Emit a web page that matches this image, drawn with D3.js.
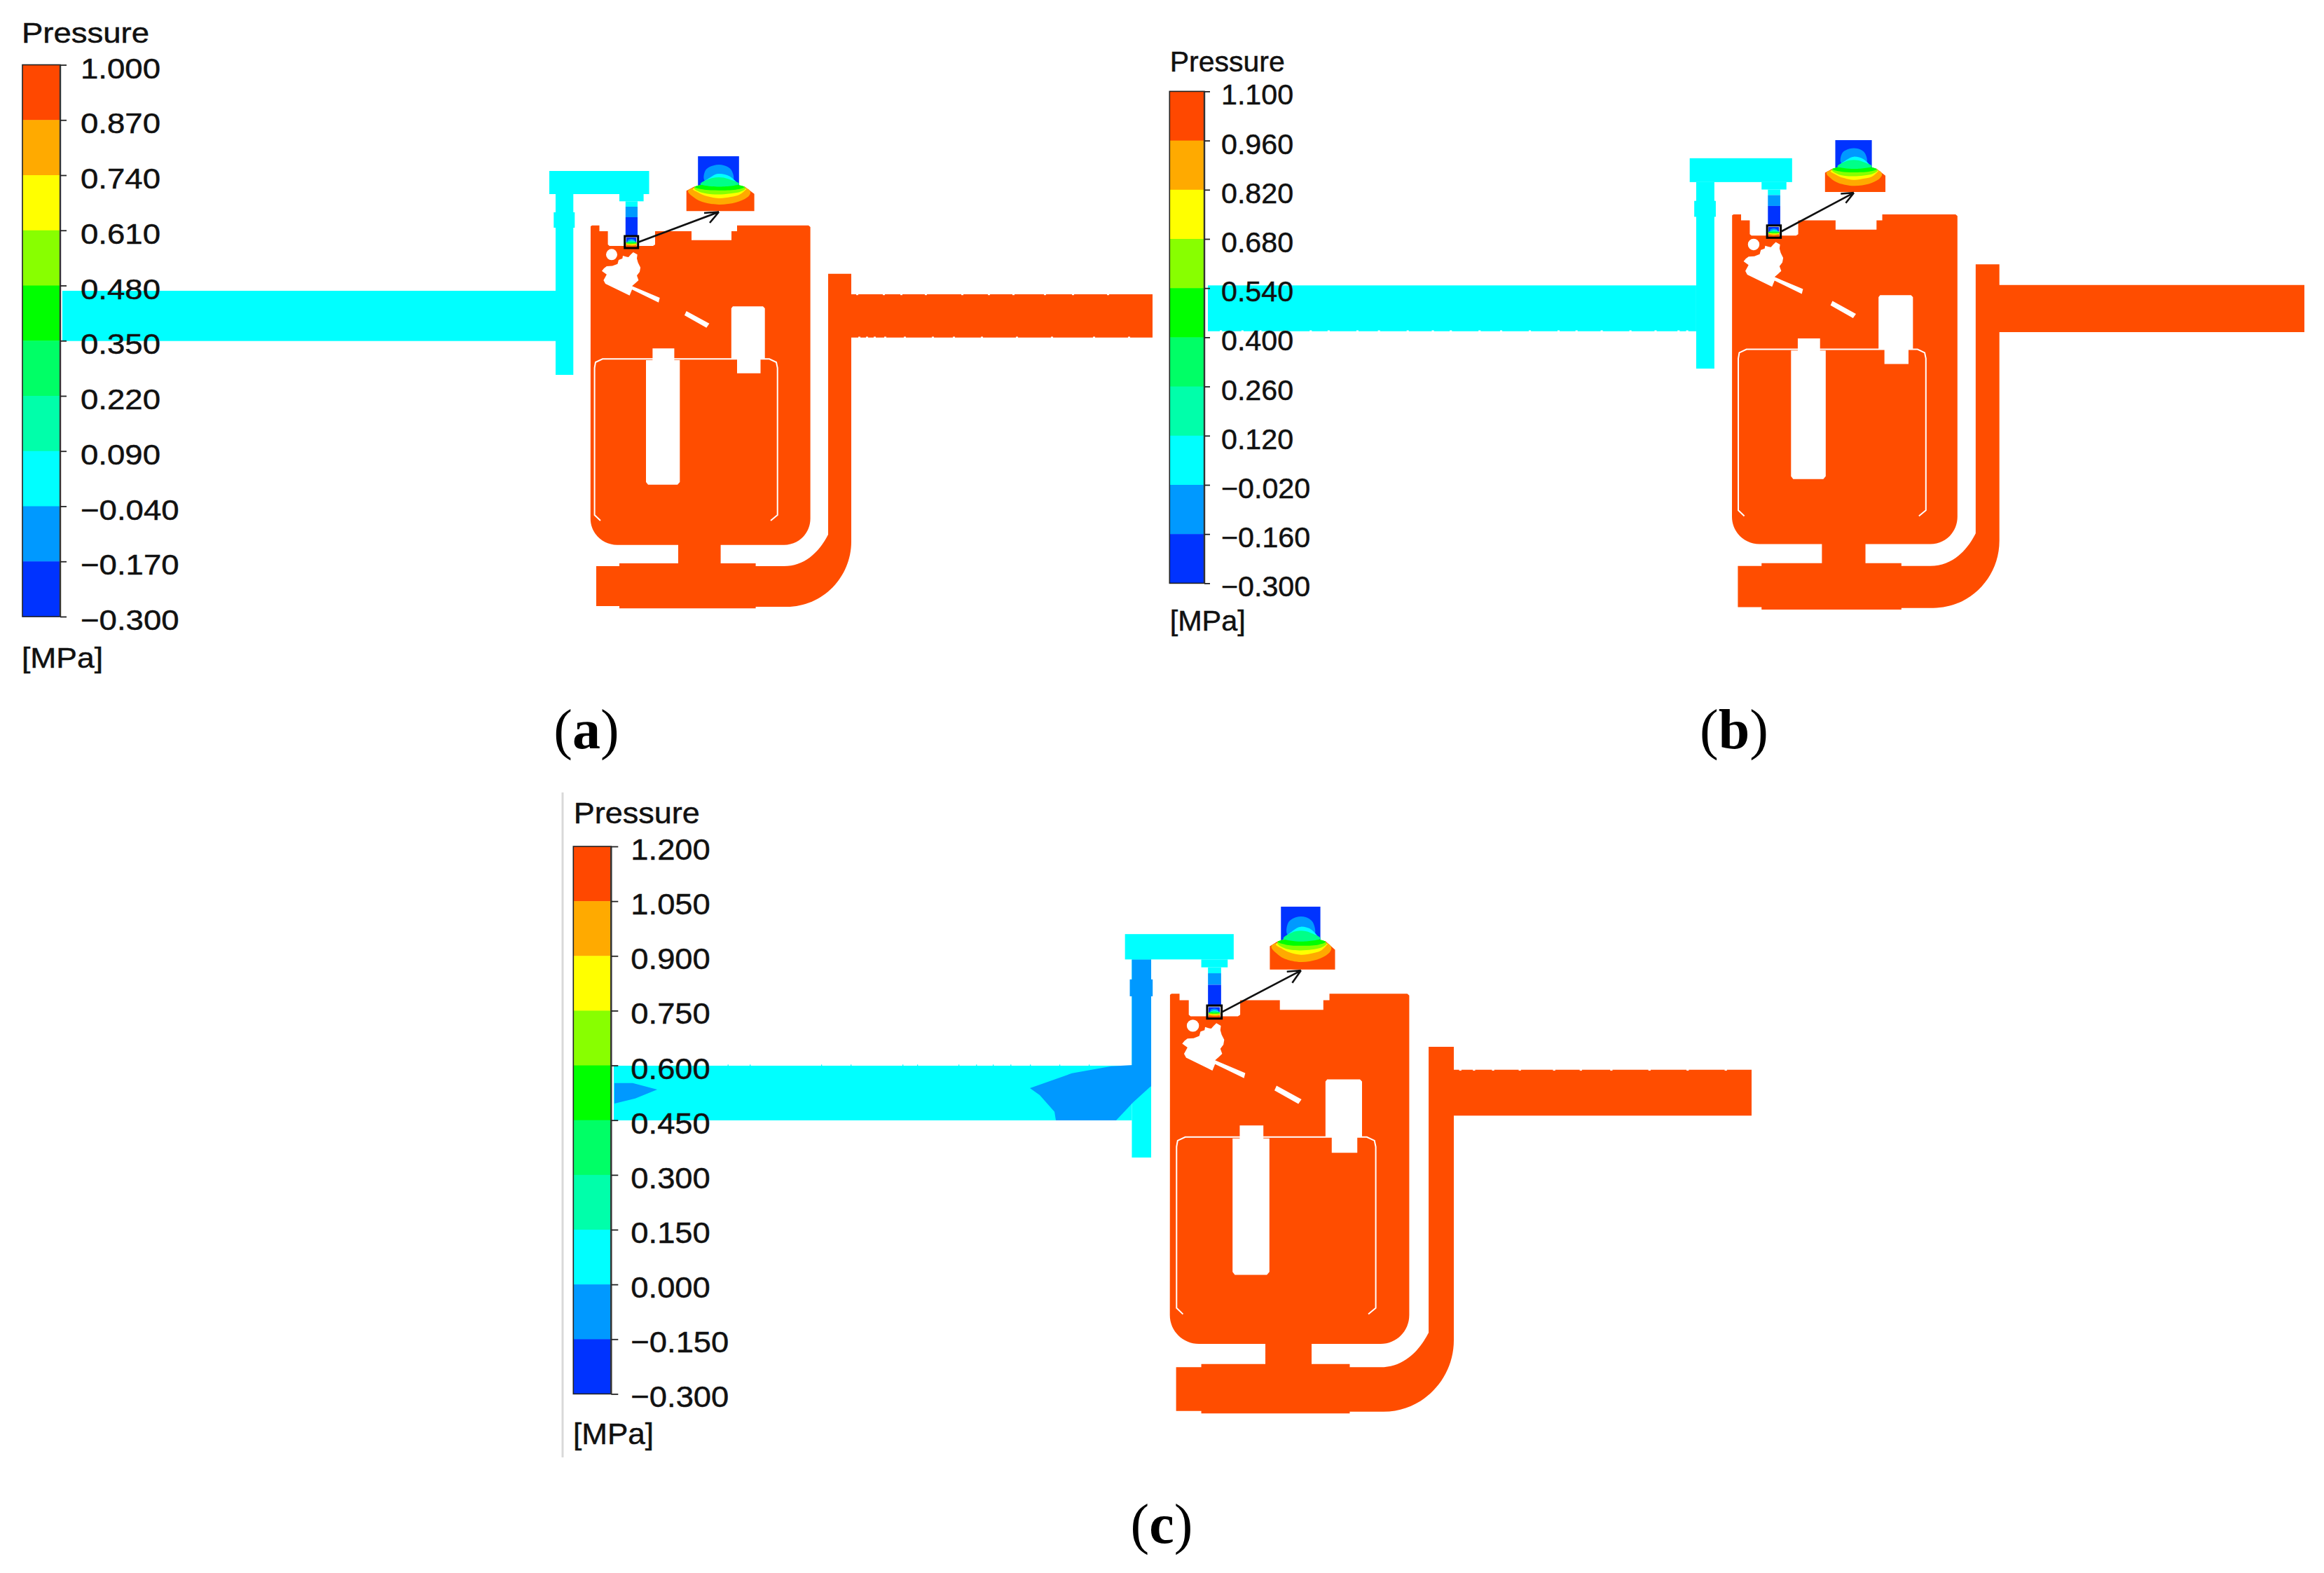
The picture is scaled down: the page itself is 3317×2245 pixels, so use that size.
<!DOCTYPE html>
<html><head><meta charset="utf-8">
<script src="https://cdn.jsdelivr.net/npm/d3@7/dist/d3.min.js"></script>
<style>html,body{margin:0;padding:0;background:#fff}svg{display:block}</style>
</head><body><div id="chart"></div>
<script>
// ---------- legend data ----------
const ticksA = [1.000,0.870,0.740,0.610,0.480,0.350,0.220,0.090,-0.040,-0.170,-0.300];
const ticksB = [1.100,0.960,0.820,0.680,0.540,0.400,0.260,0.120,-0.020,-0.160,-0.300];
const ticksC = [1.200,1.050,0.900,0.750,0.600,0.450,0.300,0.150,0.000,-0.150,-0.300];
const bandColors = ["#ff4800","#ffaa00","#ffff00","#88ff00","#00ff00","#00ff66","#00ffaa","#00ffff","#0099ff","#0033ff"];
const RED="#ff4d00", CYAN="#00ffff", LBLUE="#0099ff", BLUE="#0033ff";

// ---------- geometry, in model units ----------
// segments: [x,y] = line to; [c1x,c1y,c2x,c2y,x,y] = curve to
const outlineTop = [[843,323],[845,321.7],[855.5,321.7],[855.5,330],[867.6,330],[867.6,349],[870,351],[932,351],[935,349],[935,330],[987,330],[987,342.7],[1044,342.7],[1044,330],[1052,330],[1052,321.7],[1154,321.7],[1156.6,324],[1156.6,740],[1156.6,761,1140,777.7,1119,777.7],[1028.6,777.7],[1028.6,804],[1078.6,804],[1078.6,808],[1119,808],[1147,808,1168,790,1182,763],[1182,390.7],[1215,390.7]];
const outlineBottom = [[1215,773],[1215,824,1174,866,1123,866],[1078.6,866],[1078.6,868.3],[884,868.3],[884,865],[851,865],[851,808],[884,808],[884,804],[968,804],[968,777.7],[881,777.7],[860,777.7,842.8,761,842.8,740]];
const blobHole = [[859,386.7],[862,383],[865.9,380],[874,379.5],[881.4,376.7],[883,371],[888.3,369],[889,365],[894,366.5],[897,367],[900.3,363.3],[903.8,360],[909.7,363.3],[909,369],[910.7,375],[914.1,381.7],[913,388],[909,393.3],[911.4,400],[907,404],[902.1,408.3],[941.7,425],[940,431.7],[902.1,413.3],[898.6,421.7],[864.1,405],[861.4,400],[865.9,391.7]];
const circleHole = [873,363.3,8];
const slitHole = [[979.7,444],[1012.4,461.7],[1008.3,467.7],[976.9,450]];
const shiftedHoles = [
  [[1043.8,440],[1046,437.3],[1089,437.3],[1091.7,440],[1091.7,511.7],[1085.5,511.7],[1085.5,532.7],[1052,532.7],[1052,511.7],[1043.8,511.7]],
  [[931.4,497.3],[962.4,497.3],[962.4,514],[970.3,514],[970.3,688],[967,691.7],[925,691.7],[922,688],[922,514],[931.4,514]]
];
const innerLine = [[857,743],[848.6,735],[848.6,525],[850,517],[860,512.3],[1098,512.3],[1108,517],[1109.7,525],[1109.7,735],[1100,743]];
// [x0,y0,x1,y1,colour]
const headerRects = [[784,244,926.5,277,CYAN],[884,277,918.6,287.3,CYAN]];
const tubeRects = [[892.8,287.3,910,295,CYAN],[892.8,295,910,310,LBLUE],[892.8,310,910,338,BLUE]];
const riserRect = [793,277,818.3,535];
const bulgeRect = [790.3,303,820.3,325];
const squareBox = [891.7,337,910.7,354];
const miniBox = [893.5,339,908.5,352.5];
// panel (c) low pressure patches
const riserPatchC = [793,277,818.3,442.5];
const patchMainC = [[794.9,414.5],[765.9,416.1],[714.5,425.2],[675.7,438.9],[659.4,444.6],[672.3,453.7],[691.6,475.4],[693.4,486.6],[772.4,486.6],[794.9,462.9],[817.4,442.5],[818.3,414.5]];
const patchLeftC = [[114.8,437.9],[138.7,437.9],[170.9,446.4],[142.1,458],[114.8,464.7]];
// mesh roughness along the pipe edges: positions of small notches and spikes
const notchOutletTopA = [1222,1260,1285,1320,1372,1410,1445,1490,1530,1580];
const notchOutletBottomA = [1225,1236,1247,1262,1290,1330,1360,1400,1450,1500,1560,1610];
const notchInletBottomB = [130,160,185,220,255,280,320,350,390,425,450,490,520,560,600,625,660,700,735,767,779];
const notchOutletTopC = [1222,1240,1265,1300,1345,1380,1420,1470,1520,1570];
const spikeInletTopC = [263.2,292.1,385.7,424.3,492.3,511.5,565.7,588.8,610.7,633.8,659.4,697.9,736.5];

// inset model
const insetBox = [979.7,1076.6,223,301.3];
const insetBase = [[979.7,301.3],[979.7,272.3],[991.7,266],[1062.4,266],[1076.6,276.7],[1076.6,301.3]];
const insetTube = [996.2,223,1054.8,267];
const insetDomes = [
 {c:LBLUE,p:[[1006,258],[1007,243],[1019,236],[1033,236],[1044,243],[1046,258],[1026,262]]},
 {c:CYAN,p:[[1000,265],[1014,253],[1026,248],[1042,252],[1052,265],[1026,270]]}
];
const insetLenses = [
 {c:"#ffaa00",p:[[982,272.5],[992,268],[1026,266],[1062,268],[1071,274],[1066,282],[1050,289],[1026,292],[1002,288],[988,280]]},
 {c:"#ffff00",p:[[990,268.5],[1026,264],[1062,268.5],[1064,271],[1055,278],[1043,281],[1026,283],[1009,280],[997,275]]},
 {c:"#88ff00",p:[[991.5,266.5],[1026,261],[1062,266.5],[1056,274],[1026,277.5],[1002,275]]},
 {c:"#00ff00",p:[[991.7,266.5],[1012,262],[1026,260],[1043,262],[1062.4,266.5],[1050,270.7],[1026,271.7],[1005.5,270.7]]},
 {c:"#00ff88",p:[[1000,263],[1012,255.5],[1026,253],[1040,255.5],[1055,263],[1026,266.5]]}
];
const arrowHeadTip = [1026,302.5];
const arrowBarbs = [[1013,318],[1005,304]];
const arrowStart = [910.7,345.7];

// ---------- panels: model → screen mapping and texts ----------
const panels = [
 {ticks:ticksA, bar:[32,86,92.5,880], tick:9, pad:20, fs:40.5, stretch:1.125,
  title:[31,60.6,182], unit:[31,953,116],
  sxr:[842.8,1156.6], syd:[321.7,868.3], syr:[321.7,868.3],
  inlet:[89,415,793,486.7], outlet:[420,1645,481.7], shift:[0,0], slit:[0,0],
  notches:[[notchOutletTopA,420,1],[notchOutletBottomA,481.7,-1]],
  inset:[979.7,1076.6,223,301.3], cap:["a",837,1068]},
 {ticks:ticksB, bar:[1669.3,1719,130.4,832.4], tick:8, pad:16, fs:40, stretch:1.03,
  title:[1669.7,101.7,164], unit:[1669.7,900,108],
  sxr:[2472,2793.8], syd:[321.7,868.3], syr:[306,870],
  inlet:[113.4,419.9,793,483.3], outlet:[419.3,1639.5,484.5], shift:[3,-4], slit:[3,-2.5],
  notches:[[notchInletBottomB,483.3,-1]],
  inset:[2604.8,2691,200,274], cap:["b",2475,1068]},
 {ticks:ticksC, bar:[818.3,872.3,1208,1989.4], tick:10, pad:18, fs:43, stretch:1.055,
  title:[818.7,1175,180], unit:[818,2061,115],
  sxr:[1669.7,2011.4], syd:[321.7,868.3], syr:[1418.3,2017.3],
  inlet:[113.9,415.4,793,486.6], outlet:[420.6,1605.3,480.5], shift:[3,-4], slit:[3,-2.5],
  notches:[[notchOutletTopC,420.6,1]], spikes:[spikeInletTopC,415.4],
  inset:[1812.4,1905.5,1294,1383.7], cap:["c",1658,2202], patches:true}
];

// ---------- drawing ----------
const W=3317,H=2245, SANS="'Liberation Sans',Arial,sans-serif", SERIF="'Liberation Serif','Times New Roman',serif";
const svg=d3.select("#chart").append("svg").attr("width",W).attr("height",H).attr("viewBox",[0,0,W,H]).style("background","#fff");
const fmt=d=>d3.format(".3f")(d).replace("-","\u2013");

function stretched(sel,size,target){
  sel.style("font-family",SANS).style("font-size",size+"px").attr("fill","#111").attr("stroke","#111").attr("stroke-width",0.5);
  sel.attr("textLength",target).attr("lengthAdjust","spacingAndGlyphs");
}

panels.forEach((P,pi)=>{
  const g=svg.append("g");
  // ---- geometry scales
  const sx=d3.scaleLinear().domain([842.8,1156.6]).range(P.sxr);
  const sy=d3.scaleLinear().domain(P.syd).range(P.syr);
  const poly=(pts,fill,X=sx,Y=sy,curve,parent=g)=>{
    const l=d3.line().x(p=>X(p[0])).y(p=>Y(p[1]));
    if(curve) l.curve(curve);
    parent.append("path").attr("d",curve?l(pts):l(pts)+"Z").attr("fill",fill);
  };
  const rect=(r,fill)=>g.append("rect").attr("x",sx(r[0])).attr("y",sy(r[1])).attr("width",sx(r[2])-sx(r[0])).attr("height",sy(r[3])-sy(r[1])).attr("fill",fill);

  // ---- inlet, riser, header, tube
  rect(P.inlet,CYAN);
  if(P.spikes) P.spikes[0].forEach(x=>rect([x,P.spikes[1]-1.5,x+1.2,P.spikes[1]+0.5],CYAN));
  rect(riserRect,CYAN); rect(bulgeRect,P.patches?LBLUE:CYAN);
  if(P.patches){
    rect(riserPatchC,LBLUE);
    poly(patchMainC,LBLUE); poly(patchLeftC,LBLUE);
  }
  headerRects.forEach(r=>rect(r,r[4]));
  tubeRects.forEach(r=>rect(r,r[4]));

  // ---- body outline
  const seg=[...outlineTop,[1215,P.outlet[0]],[P.outlet[1],P.outlet[0]],[P.outlet[1],P.outlet[2]],[1215,P.outlet[2]],...outlineBottom];
  const path=d3.path();
  seg.forEach((s,i)=>{
    if(i===0) path.moveTo(sx(s[0]),sy(s[1]));
    else if(s.length===2) path.lineTo(sx(s[0]),sy(s[1]));
    else path.bezierCurveTo(sx(s[0]),sy(s[1]),sx(s[2]),sy(s[3]),sx(s[4]),sy(s[5]));
  });
  path.closePath();
  g.append("path").attr("d",path.toString()).attr("fill",RED);

  // ---- edge roughness
  (P.notches||[]).forEach(([xs,edge,dir])=>xs.forEach(x=>{
    rect(dir>0?[x,edge-0.5,x+3,edge+1.2]:[x,edge-1.2,x+3,edge+0.5],"#fff");
  }));

  // ---- holes
  const hx=v=>sx(v+P.shift[0]), hy=v=>sy(v+P.shift[1]);
  poly(blobHole,"#fff");
  g.append("circle").attr("cx",sx(circleHole[0])).attr("cy",sy(circleHole[1])).attr("r",sx(circleHole[0]+circleHole[2])-sx(circleHole[0])).attr("fill","#fff");
  poly(slitHole,"#fff",v=>sx(v+P.slit[0]),v=>sy(v+P.slit[1]));
  shiftedHoles.forEach(h=>poly(h,"#fff",hx,hy));
  g.append("path").attr("d",d3.line().x(p=>hx(p[0])).y(p=>hy(p[1]))(innerLine)).attr("fill","none").attr("stroke","#fff").attr("stroke-width",2);

  // ---- inset and miniature of it
  const drawInset=(X,Y,parent)=>{
    poly(insetBase,RED,X,Y,null,parent);
    const tube=insetTube;
    parent.append("rect").attr("x",X(tube[0])).attr("y",Y(tube[1])).attr("width",X(tube[2])-X(tube[0])).attr("height",Y(tube[3])-Y(tube[1])).attr("fill",BLUE);
    insetDomes.forEach(d=>poly(d.p,d.c,X,Y,d3.curveCardinalClosed,parent));
    insetLenses.forEach(d=>poly(d.p,d.c,X,Y,d3.curveCardinalClosed,parent));
  };
  const ix=d3.scaleLinear().domain(insetBox.slice(0,2)).range(P.inset.slice(0,2));
  const iy=d3.scaleLinear().domain(insetBox.slice(2,4)).range(P.inset.slice(2,4));
  drawInset(ix,iy,g);
  // miniature: only the tube width of the inset, clipped to the small square
  const clipId="mini"+pi;
  const mb=[sx(miniBox[0]),sy(miniBox[1]),sx(miniBox[2])-sx(miniBox[0]),sy(miniBox[3])-sy(miniBox[1])];
  g.append("clipPath").attr("id",clipId).append("rect").attr("x",mb[0]).attr("y",mb[1]).attr("width",mb[2]).attr("height",mb[3]);
  const mg=g.append("g").attr("clip-path",`url(#${clipId})`);
  const mx=d3.scaleLinear().domain([insetTube[0],insetTube[2]]).range([mb[0],mb[0]+mb[2]]);
  const my=d3.scaleLinear().domain(insetBox.slice(2,4)).range([mb[1],mb[1]+mb[3]]);
  drawInset(mx,my,mg);
  g.append("rect").attr("x",sx(squareBox[0])).attr("y",sy(squareBox[1])).attr("width",sx(squareBox[2])-sx(squareBox[0])).attr("height",sy(squareBox[3])-sy(squareBox[1])).attr("fill","none").attr("stroke","#000").attr("stroke-width",3);

  // ---- arrow
  const tip=[ix(arrowHeadTip[0]),iy(arrowHeadTip[1])];
  const arrow=d3.path();
  arrow.moveTo(sx(arrowStart[0]),sy(arrowStart[1])); arrow.lineTo(...tip);
  arrowBarbs.forEach(b=>{arrow.moveTo(...tip); arrow.lineTo(ix(b[0]),iy(b[1]));});
  g.append("path").attr("d",arrow.toString()).attr("fill","none").attr("stroke","#111").attr("stroke-width",2.6);

  // ---- colour legend
  const [bx0,bx1,by0,by1]=P.bar;
  const vy=d3.scaleLinear().domain([P.ticks[P.ticks.length-1],P.ticks[0]]).range([by1,by0]);
  g.append("g").selectAll("rect").data(d3.pairs(P.ticks)).join("rect")
    .attr("x",bx0).attr("width",bx1-bx0).attr("y",d=>vy(d[0])).attr("height",d=>vy(d[1])-vy(d[0])+0.5)
    .attr("fill",(d,i)=>bandColors[i]);
  g.append("rect").attr("x",bx0).attr("y",by0).attr("width",bx1-bx0).attr("height",by1-by0).attr("fill","none").attr("stroke","#222").attr("stroke-width",1.6);
  g.append("line").attr("x1",bx1).attr("x2",bx1).attr("y1",by0).attr("y2",by1).attr("stroke","#333").attr("stroke-width",2.4);
  const axis=d3.axisRight(vy).tickValues(P.ticks).tickFormat(fmt).tickSize(P.tick).tickPadding(P.pad);
  const ag=g.append("g").attr("transform",`translate(${bx1},0)`).call(axis);
  ag.select(".domain").remove();
  ag.selectAll("line").attr("stroke","#222").attr("stroke-width",1.8);
  ag.selectAll("text").style("font-family",SANS).style("font-size",P.fs+"px").attr("fill","#111").attr("stroke","#111").attr("stroke-width",0.5).attr("dy","18.5px")
    .each(function(){const n=this.getComputedTextLength(); d3.select(this).attr("textLength",n*P.stretch).attr("lengthAdjust","spacingAndGlyphs");});

  g.append("text").attr("x",P.title[0]).attr("y",P.title[1]).text("Pressure").call(stretched,P.fs,P.title[2]);
  g.append("text").attr("x",P.unit[0]).attr("y",P.unit[1]).text("[MPa]").call(stretched,P.fs,P.unit[2]);

  // ---- caption
  const cap=g.append("text").attr("x",P.cap[1]).attr("y",P.cap[2]).attr("text-anchor","middle").style("font-family",SERIF).style("font-size","80px").attr("fill","#000");
  cap.append("tspan").text("(");
  cap.append("tspan").style("font-weight","bold").text(P.cap[0]);
  cap.append("tspan").text(")");
});

// thin grey rule left of panel (c)
const ruleX=[803], ruleY=[1131,2080];
svg.append("line").attr("x1",ruleX[0]).attr("x2",ruleX[0]).attr("y1",ruleY[0]).attr("y2",ruleY[1]).attr("stroke","#d9d9d9").attr("stroke-width",3);
</script></body></html>
